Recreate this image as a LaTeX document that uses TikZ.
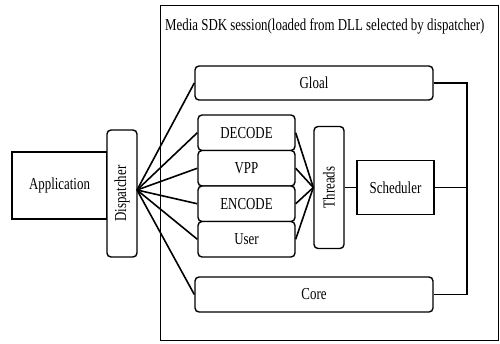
\documentclass[tikz,border=0pt]{standalone}
\usepackage{fontspec}
\setmainfont{Liberation Serif}
\newcommand\tallt[1]{\scalebox{1}[1.3]{#1}}
\begin{document}
\begin{tikzpicture}[x=1pt,y=-1pt,
  lbl/.style={font=\fontsize{12.9}{14}\selectfont},
  rbox/.style={draw,line width=1.4pt,rounded corners=4pt,fill=white,inner sep=0pt,lbl},
  sbox/.style={draw,line width=1.9pt,fill=white,inner sep=0pt,lbl},
  conn/.style={line width=1.6pt}]
\useasboundingbox (0,0) rectangle (500,343);
\node[draw,line width=1.9pt,minimum width=338pt,minimum height=335pt,inner sep=0pt] (outer) at (329.5,173) {};
\node[lbl,anchor=west,inner sep=0pt] (title) at (165,26.5) {\tallt{Media SDK session(loaded from DLL selected by dispatcher)}};
\node[sbox,minimum width=95pt,minimum height=67pt] (app) at (59.5,185.5) {\tallt{Application}};
\node[rbox,minimum width=30pt,minimum height=127pt] (disp) at (122,193.5) {\rotatebox{90}{\tallt{Dispatcher}}};
\node[rbox,minimum width=238pt,minimum height=34pt] (gl) at (314,83) {\tallt{Gloal}};
\node[rbox,minimum width=238pt,minimum height=35pt] (core) at (314,294.5) {\tallt{Core}};
\node[rbox,minimum width=97pt,minimum height=35.5pt] (dec) at (246.5,132.75) {\tallt{DECODE}};
\node[rbox,minimum width=97pt,minimum height=35.5pt] (vpp) at (246.5,168.25) {\tallt{VPP}};
\node[rbox,minimum width=97pt,minimum height=35.5pt] (enc) at (246.5,203.75) {\tallt{ENCODE}};
\node[rbox,minimum width=97pt,minimum height=35.5pt] (user) at (246.5,239.25) {\tallt{User}};
\node[rbox,minimum width=30pt,minimum height=122pt] (thr) at (329,187.5) {\rotatebox{90}{\tallt{Threads}}};
\node[sbox,minimum width=77pt,minimum height=54pt] (sch) at (395.5,187.5) {\tallt{Scheduler}};
\coordinate (dp) at (137,190);
\coordinate (bus) at (467,187.5);
\foreach \n in {gl,dec,vpp,enc,user,core} \draw[conn] (dp) -- (\n.west);
\foreach \n in {dec,vpp,enc,user} \draw[conn] (\n.east) -- (thr.west);
\draw[conn] (thr.east) -- (sch.west);
\draw[conn] (gl.east) -| (bus) |- (core.east);
\draw[conn] (sch.east) -- (bus);
\end{tikzpicture}
\end{document}
